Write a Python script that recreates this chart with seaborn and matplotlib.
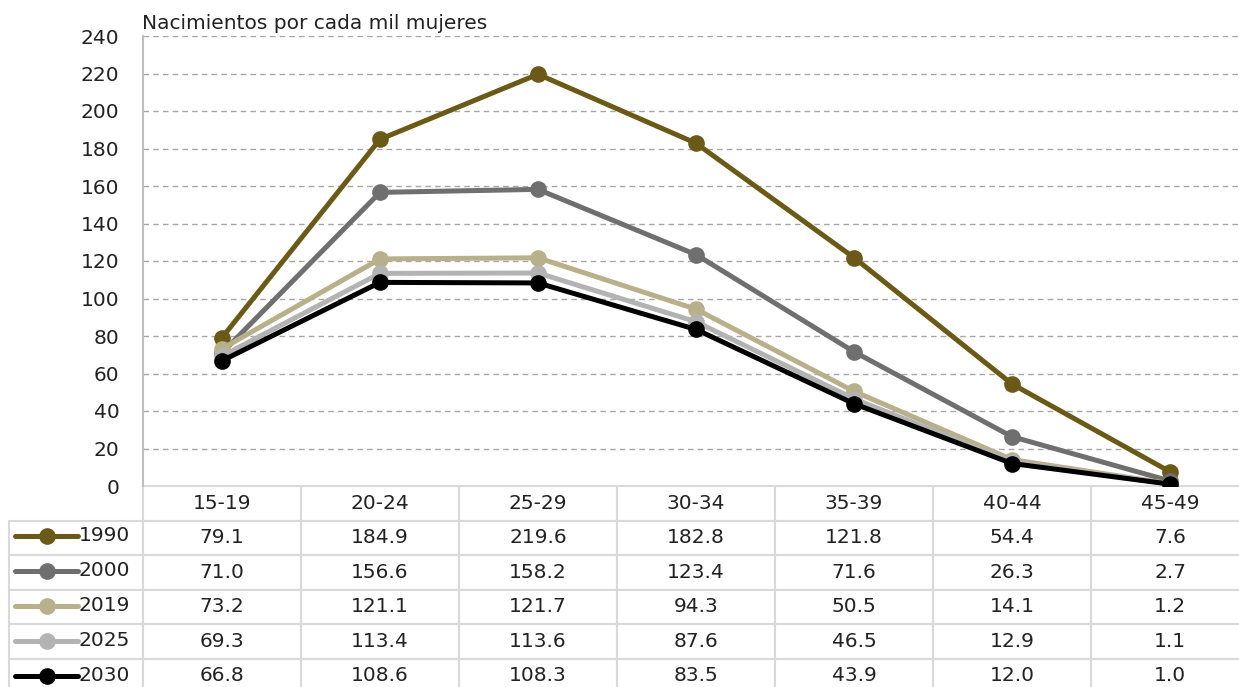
import matplotlib
matplotlib.use("Agg")
import matplotlib.pyplot as plt
from matplotlib.lines import Line2D
import pandas as pd
import seaborn as sns

grupos = ["15-19", "20-24", "25-29", "30-34", "35-39", "40-44", "45-49"]
anios = ["1990", "2000", "2019", "2025", "2030"]
tasa_1990 = [79.1, 184.9, 219.6, 182.8, 121.8, 54.4, 7.6]
tasa_2000 = [71.0, 156.6, 158.2, 123.4, 71.6, 26.3, 2.7]
tasa_2019 = [73.2, 121.1, 121.7, 94.3, 50.5, 14.1, 1.2]
tasa_2025 = [69.3, 113.4, 113.6, 87.6, 46.5, 12.9, 1.1]
tasa_2030 = [66.8, 108.6, 108.3, 83.5, 43.9, 12.0, 1.0]
colores = ["#6b5a17", "#6f6f6f", "#b8b08a", "#b3b3b3", "#000000"]
yticks = list(range(0, 241, 20))


def main():
    sns.set_style("white")
    plt.rcParams["font.family"] = ["DejaVu Sans"]
    fs = 14.5

    series = [tasa_1990, tasa_2000, tasa_2019, tasa_2025, tasa_2030]
    df = pd.DataFrame(
        [(a, g, v) for a, vals in zip(anios, series) for g, v in zip(grupos, vals)],
        columns=["anio", "grupo", "tasa"],
    )

    W, H = 1239, 687
    fig = plt.figure(figsize=(W / 100, H / 100), dpi=100)
    x0, x1, ytop, ybot = 143, 1249, 36, 486
    ax = fig.add_axes([x0 / W, 1 - ybot / H, (x1 - x0) / W, (ybot - ytop) / H])

    sns.lineplot(data=df, x="grupo", y="tasa", hue="anio", palette=colores,
                 marker="o", markersize=12, markeredgewidth=0, linewidth=3.6,
                 sort=False, legend=False, ax=ax, zorder=3)

    ax.set_xlim(-0.5, len(grupos) - 0.5)
    ax.set_ylim(0, 240)
    ax.set_yticks(yticks)
    ax.set_yticklabels([str(t) for t in yticks], fontsize=fs, color="#222222")
    ax.tick_params(axis="y", length=0, pad=17)
    ax.set_xticks([])
    ax.set_xlabel("")
    ax.set_ylabel("")
    for t in yticks[1:]:
        ax.axhline(t, color="#a6a6a6", lw=1, ls=(0, (4, 3)), zorder=1)
    for s in ["top", "right", "bottom"]:
        ax.spines[s].set_visible(False)
    ax.spines["left"].set_color("#bfbfbf")
    ax.spines["left"].set_linewidth(1.5)

    # tabla de datos: primera columna para la leyenda
    aw = x1 - x0
    ah = ybot - ytop
    tleft = 9
    theight = 207
    celltext = [[""] + [f"{v:.1f}" for v in vals] for vals in series]
    tabla = ax.table(cellText=celltext, colLabels=[""] + grupos, cellLoc="center",
                     bbox=[(tleft - x0) / aw, -theight / ah, (x1 - tleft) / aw, theight / ah])
    tabla.auto_set_font_size(False)
    tabla.set_fontsize(fs)
    for (r, c), cell in tabla.get_celld().items():
        cell.set_edgecolor("#d9d9d9")
        cell.set_linewidth(1.5)
        cell.get_text().set_color("#222222")
        cell.set_width((x0 - tleft) / aw if c == 0 else 1 / len(grupos))
    tabla[0, 0].visible_edges = ""

    # claves de la leyenda en la columna de etiquetas
    for i, (a, col) in enumerate(zip(anios, colores)):
        yc = 1 - (518 + 35 * i + 17.5) / H
        fig.add_artist(Line2D([15 / W, 78 / W], [yc, yc], transform=fig.transFigure,
                              color=col, lw=3.6, solid_capstyle="round"))
        fig.add_artist(Line2D([47 / W], [yc], transform=fig.transFigure, color=col,
                              marker="o", markersize=12, markeredgewidth=0))
        fig.text(79 / W, yc, a, fontsize=fs, color="#222222", va="center", ha="left")

    fig.text(142 / W, 1 - 29 / H, "Nacimientos por cada mil mujeres", fontsize=fs,
             color="#222222", ha="left", va="baseline")

    fig.savefig("out.png", dpi=100)
    plt.close(fig)


if __name__ == "__main__":
    main()
